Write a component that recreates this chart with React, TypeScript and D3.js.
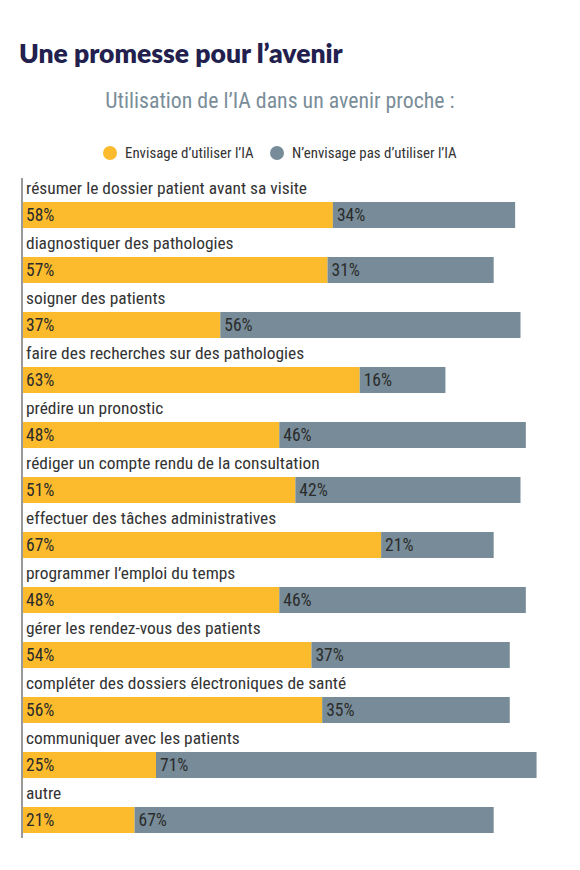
import React, { useEffect, useRef } from "react";
import * as d3 from "d3";

const categories = [
  "résumer le dossier patient avant sa visite",
  "diagnostiquer des pathologies",
  "soigner des patients",
  "faire des recherches sur des pathologies",
  "prédire un pronostic",
  "rédiger un compte rendu de la consultation",
  "effectuer des tâches administratives",
  "programmer l’emploi du temps",
  "gérer les rendez-vous des patients",
  "compléter des dossiers électroniques de santé",
  "communiquer avec les patients",
  "autre",
];
const envisage = [58, 57, 37, 63, 48, 51, 67, 48, 54, 56, 25, 21];
const nEnvisagePas = [34, 31, 56, 16, 46, 42, 21, 46, 37, 35, 71, 67];
const seriesNames = ["Envisage d’utiliser l’IA", "N’envisage pas d’utiliser l’IA"];
const seriesColors = ["#fbbb2d", "#778c98"];

const COND = "'Roboto Condensed', 'Liberation Sans Narrow', Roboto, sans-serif";

const App: React.FC = () => {
  const svgRef = useRef<SVGSVGElement | null>(null);

  useEffect(() => {
    if (!svgRef.current) return;
    const svg = d3.select(svgRef.current);
    svg.selectAll("*").remove();

    const W = 580;
    const H = 870;
    const left = 22;

    const x = d3.scaleLinear().domain([0, 100]).range([0, 536]);
    // each band is 55px: label on top, bar below
    const y = d3.scaleBand().domain(categories).range([175, 835]);

    svg.attr("width", W).attr("height", H);

    // title
    svg
      .append("text")
      .attr("x", 19)
      .attr("y", 63)
      .attr("font-family", "Lato, 'Open Sans', sans-serif")
      .attr("font-weight", 800)
      .attr("font-size", 26.5)
      .attr("fill", "#231f4e")
      .text("Une promesse pour l’avenir");

    svg
      .append("text")
      .attr("x", 280)
      .attr("y", 108)
      .attr("text-anchor", "middle")
      .attr("font-family", COND)
      .attr("font-size", 21.8)
      .attr("fill", "#7a8d99")
      .text("Utilisation de l’IA dans un avenir proche :");

    // legend
    const legendX = [110, 277];
    const legend = svg
      .selectAll(".legend")
      .data(seriesNames)
      .enter()
      .append("g")
      .attr("class", "legend")
      .attr("transform", (d, i) => `translate(${legendX[i]},153)`);
    legend.append("circle").attr("r", 7).attr("fill", (d, i) => seriesColors[i]);
    legend
      .append("text")
      .attr("x", 15)
      .attr("y", 5)
      .attr("font-family", COND)
      .attr("font-size", 14.9)
      .attr("fill", "#333")
      .text((d) => d);

    const rows = svg
      .selectAll(".row")
      .data(categories)
      .enter()
      .append("g")
      .attr("class", "row")
      .attr("transform", (d) => `translate(${left},${y(d)})`);

    rows
      .append("text")
      .attr("x", 4)
      .attr("y", 19)
      .attr("font-family", COND)
      .attr("font-size", 17.4)
      .attr("fill", "#333")
      .text((d) => d);

    const barTop = 27;
    const barH = 26;

    rows
      .append("rect")
      .attr("x", 0)
      .attr("y", barTop)
      .attr("width", (d, i) => x(envisage[i]))
      .attr("height", barH)
      .attr("fill", seriesColors[0]);
    rows
      .append("rect")
      .attr("x", (d, i) => x(envisage[i]))
      .attr("y", barTop)
      .attr("width", (d, i) => x(nEnvisagePas[i]))
      .attr("height", barH)
      .attr("fill", seriesColors[1]);

    rows
      .append("text")
      .attr("x", 4)
      .attr("y", barTop + 19)
      .attr("font-family", COND)
      .attr("font-size", 17.5)
      .attr("fill", "#2b2b2b")
      .text((d, i) => `${envisage[i]}%`);
    rows
      .append("text")
      .attr("x", (d, i) => x(envisage[i]) + 4)
      .attr("y", barTop + 19)
      .attr("font-family", COND)
      .attr("font-size", 17.5)
      .attr("fill", "#2b2b2b")
      .text((d, i) => `${nEnvisagePas[i]}%`);

    // left axis line
    svg
      .append("line")
      .attr("x1", left)
      .attr("x2", left)
      .attr("y1", 178)
      .attr("y2", 838)
      .attr("stroke", "#9a9a9a")
      .attr("stroke-width", 2);
  }, []);

  return <svg ref={svgRef} style={{ display: "block", margin: "-8px" }}></svg>;
};

export default App;
